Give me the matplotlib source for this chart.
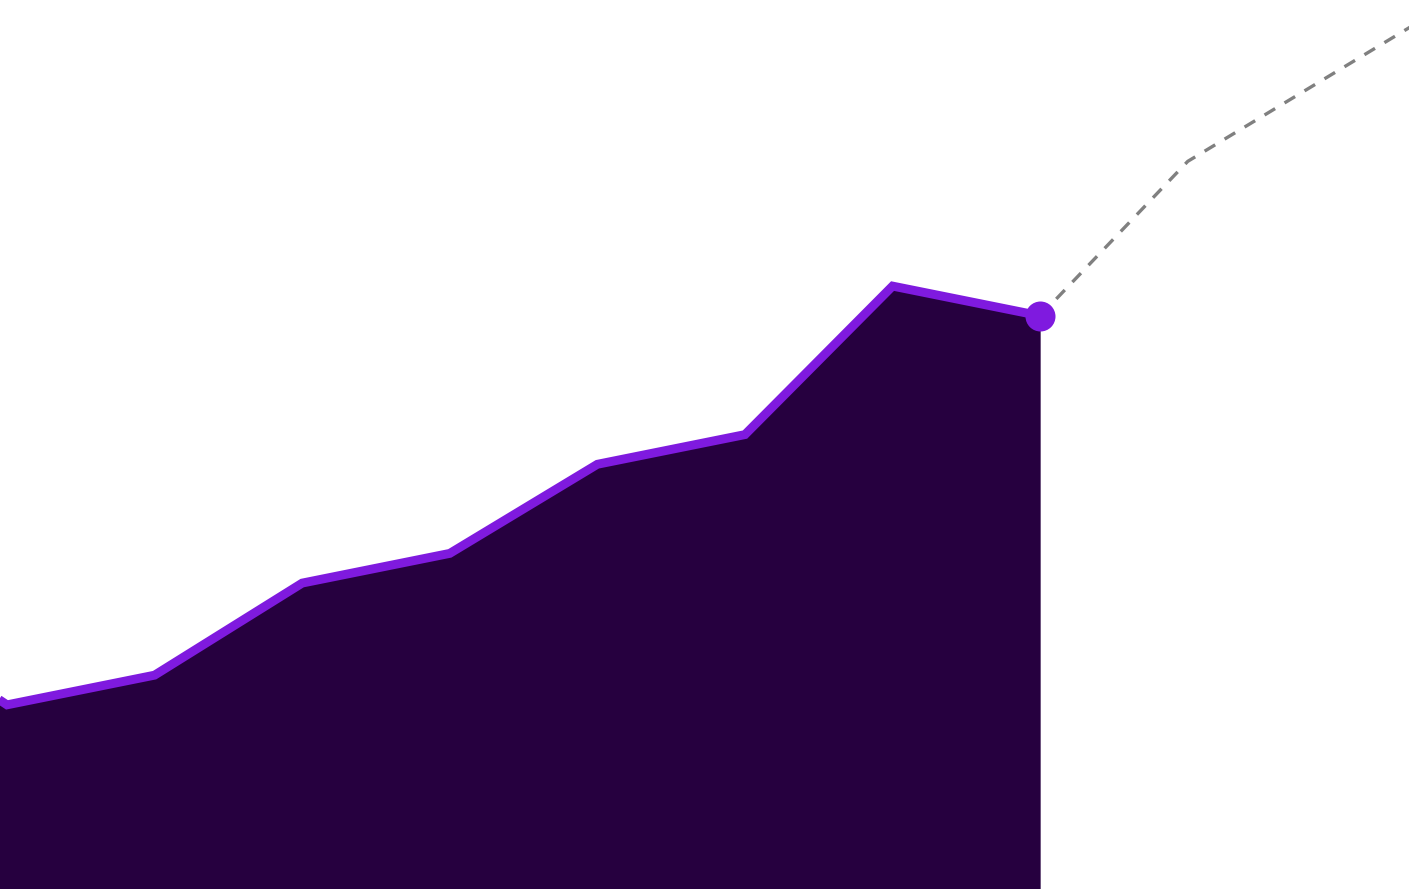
import matplotlib
matplotlib.use("Agg")
import matplotlib.pyplot as plt

# Data (x index positions, values)
actual_x = [-1, 0, 1, 2, 3, 4, 5, 6, 7]
actual_y = [9.5, 6.2, 7.2, 10.3, 11.3, 14.3, 15.3, 20.3, 19.3]
forecast_x = [7, 8, 9, 10]
forecast_y = [19.3, 24.5, 27.5, 30.5]

fill_color = "#26003F"
line_color = "#7F1ADF"
dash_color = "#808080"

fig = plt.figure(figsize=(14.09, 8.89), dpi=100)
ax = fig.add_axes([0, 0, 1, 1])
ax.axis("off")

ax.fill_between(actual_x, actual_y, 0, color=fill_color, lw=0, zorder=1)
ax.plot(actual_x, actual_y, color=line_color, lw=6.4, solid_joinstyle="miter",
        solid_capstyle="butt", zorder=3)
ax.plot(forecast_x, forecast_y, color=dash_color, lw=2.4, dashes=(3.7, 3.3),
        dash_capstyle="butt", zorder=2)
ax.plot([actual_x[-1]], [actual_y[-1]], "o", color=line_color, ms=21.6,
        markeredgewidth=0, zorder=4)

ax.set_xlim(-0.0474, 9.499)
ax.set_ylim(0, 889 / 29.7)

fig.savefig("out.png", dpi=100)
